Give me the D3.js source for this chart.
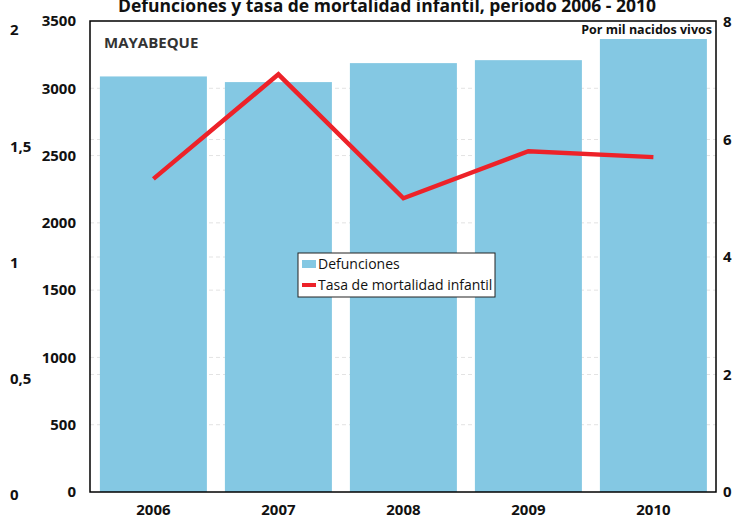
<!DOCTYPE html>
<html>
<head>
<meta charset="utf-8">
<script src="https://cdn.jsdelivr.net/npm/d3@7"></script>
<style>
  body { margin: 0; background: #fff; }
  svg { display: block; font-family: "Open Sans", "Noto Sans", sans-serif; }
  .tick-lbl { font-weight: 700; font-size: 15px; fill: #111; }
</style>
</head>
<body>
<svg id="chart" width="739" height="519"></svg>
<script>
// data
var years = ['2006', '2007', '2008', '2009', '2010'];
var defunciones = [3088, 3046, 3187, 3209, 3366];
var tasa = [5.33, 7.11, 5.0, 5.8, 5.7];
var leftTicks = [0, 500, 1000, 1500, 2000, 2500, 3000, 3500];
var outerTicks = [0, 0.5, 1, 1.5, 2];
var rightTicks = [0, 2, 4, 6, 8];

var margin = { left: 90, right: 716, top: 21, bottom: 492 };

var svg = d3.select('#chart');

var x = d3.scaleBand().domain(years)
    .range([margin.left, margin.right - 1])
    .paddingInner(0.144).paddingOuter(0.072).align(0.55);
var y = d3.scaleLinear().domain([0, 3500]).range([margin.bottom, margin.top]);
var yR = d3.scaleLinear().domain([0, 8]).range([margin.bottom, margin.top + 1]);
var yO = d3.scaleLinear().domain([0, 2]).range([495, 30]);

var fmt = function (d) { return String(d).replace('.', ','); };

// faint gridlines
var grid = svg.append('g').attr('class', 'grid');
leftTicks.slice(1, -1).forEach(function (t) {
    grid.append('line')
        .attr('x1', margin.left).attr('x2', margin.right)
        .attr('y1', y(t)).attr('y2', y(t))
        .attr('stroke', '#e3e3e3').attr('stroke-dasharray', '4,3');
});
rightTicks.slice(1, -1).forEach(function (t) {
    grid.append('line')
        .attr('x1', margin.left).attr('x2', margin.right)
        .attr('y1', yR(t)).attr('y2', yR(t))
        .attr('stroke', '#e3e3e3').attr('stroke-dasharray', '4,3');
});

// bars
svg.append('g').selectAll('rect')
    .data(defunciones)
    .enter().append('rect')
    .attr('x', function (d, i) { return x(years[i]); })
    .attr('y', function (d) { return y(d); })
    .attr('width', x.bandwidth())
    .attr('height', function (d) { return margin.bottom - y(d); })
    .attr('fill', '#84c8e3');

// line
var line = d3.line()
    .x(function (d, i) { return x(years[i]) + x.bandwidth() / 2; })
    .y(function (d) { return yR(d); });

svg.append('path')
    .datum(tasa)
    .attr('d', line)
    .attr('fill', 'none')
    .attr('stroke', '#ed2229')
    .attr('stroke-width', 4.5)
    .attr('stroke-linejoin', 'miter');

// frame
svg.append('rect')
    .attr('x', margin.left).attr('y', margin.top)
    .attr('width', margin.right - margin.left)
    .attr('height', margin.bottom - margin.top)
    .attr('fill', 'none').attr('stroke', '#000').attr('stroke-width', 1.5);

// axis labels
svg.append('g').selectAll('text').data(leftTicks).enter().append('text')
    .attr('class', 'tick-lbl')
    .attr('x', 76).attr('y', function (d) { return y(d); })
    .attr('dy', '0.35em').attr('text-anchor', 'end')
    .text(function (d) { return d; });

svg.append('g').selectAll('text').data(outerTicks).enter().append('text')
    .attr('class', 'tick-lbl')
    .attr('x', 10).attr('y', function (d) { return yO(d); })
    .attr('dy', '0.35em')
    .text(fmt);

svg.append('g').selectAll('text').data(rightTicks).enter().append('text')
    .attr('class', 'tick-lbl')
    .attr('x', 723).attr('y', function (d) { return yR(d); })
    .attr('dy', '0.35em')
    .text(function (d) { return d; });

svg.append('g').selectAll('text').data(years).enter().append('text')
    .attr('class', 'tick-lbl')
    .attr('x', function (d) { return x(d) + x.bandwidth() / 2; })
    .attr('y', 515).attr('text-anchor', 'middle')
    .text(function (d) { return d; });

// titles
svg.append('text')
    .attr('x', 387).attr('y', 12)
    .attr('text-anchor', 'middle')
    .style('font-weight', 700).style('font-size', '17.5px').attr('fill', '#111')
    .text('Defunciones y tasa de mortalidad infantil, período 2006 - 2010');

svg.append('text')
    .attr('x', 104).attr('y', 48)
    .style('font-weight', 700).style('font-size', '15px').attr('fill', '#333')
    .text('MAYABEQUE');

svg.append('text')
    .attr('x', 712).attr('y', 34).attr('text-anchor', 'end')
    .style('font-weight', 700).style('font-size', '12.5px').attr('fill', '#111')
    .text('Por mil nacidos vivos');

// legend
var lg = svg.append('g').attr('transform', 'translate(298,253)');
lg.append('rect').attr('width', 197).attr('height', 44)
    .attr('fill', '#fff').attr('stroke', '#222').attr('stroke-width', 1);
lg.append('rect').attr('x', 4).attr('y', 7).attr('width', 14).attr('height', 8).attr('fill', '#84c8e3');
lg.append('rect').attr('x', 4).attr('y', 30).attr('width', 14).attr('height', 4).attr('fill', '#ed2229');
lg.append('text').attr('x', 20).attr('y', 16)
    .style('font-size', '14px').attr('fill', '#111').text('Defunciones');
lg.append('text').attr('x', 20).attr('y', 37)
    .style('font-size', '14px').attr('fill', '#111').text('Tasa de mortalidad infantil');
</script>
</body>
</html>
